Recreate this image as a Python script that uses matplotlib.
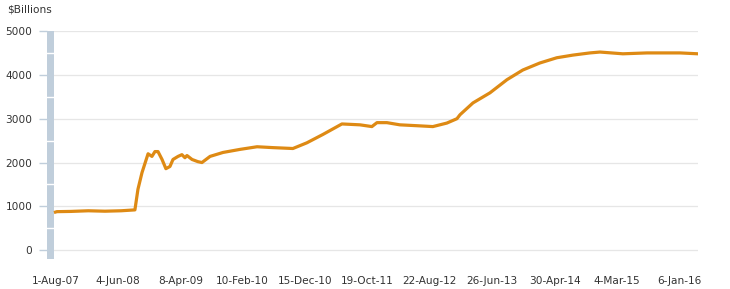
import matplotlib
matplotlib.use("Agg")
import matplotlib.pyplot as plt
import matplotlib.dates as mdates
import pandas as pd

# Data, $ billions
dates = ["2007-08-01", "2007-08-08", "2007-10-15", "2008-01-10", "2008-04-01", "2008-06-20",
         "2008-08-27", "2008-09-11", "2008-10-01", "2008-10-31", "2008-11-19", "2008-12-04",
         "2008-12-19", "2009-01-08", "2009-01-27", "2009-02-16", "2009-03-03", "2009-03-28",
         "2009-04-16", "2009-05-01", "2009-05-11", "2009-06-05", "2009-07-04", "2009-07-24",
         "2009-09-02", "2009-11-05", "2010-01-28", "2010-04-22", "2010-07-10", "2010-10-16",
         "2010-12-24", "2011-03-13", "2011-06-15", "2011-09-12", "2011-11-10", "2011-12-05",
         "2012-01-23", "2012-03-27", "2012-06-19", "2012-09-06", "2012-11-14", "2013-01-03",
         "2013-01-18", "2013-03-23", "2013-06-15", "2013-09-07", "2013-11-24", "2014-02-16",
         "2014-05-11", "2014-07-29", "2014-10-21", "2014-12-10", "2015-04-02", "2015-07-30",
         "2016-01-09", "2016-04-07"]
values = [870, 880, 885, 900, 890, 900,
          920, 1390, 1770, 2200, 2140, 2250,
          2250, 2070, 1860, 1910, 2070, 2140,
          2180, 2110, 2160, 2070, 2020, 2000,
          2140, 2230, 2300, 2360, 2340, 2320,
          2450, 2640, 2880, 2860, 2820, 2910,
          2910, 2860, 2840, 2820, 2900, 3000,
          3090, 3360, 3590, 3890, 4110, 4270,
          4390, 4450, 4500, 4520, 4480, 4500,
          4500, 4480]

tick_dates = ["2007-08-01", "2008-06-04", "2009-04-08", "2010-02-10", "2010-12-15",
              "2011-10-19", "2012-08-22", "2013-06-26", "2014-04-30", "2015-03-04", "2016-01-06"]
tick_labels = ["1-Aug-07", "4-Jun-08", "8-Apr-09", "10-Feb-10", "15-Dec-10", "19-Oct-11",
               "22-Aug-12", "26-Jun-13", "30-Apr-14", "4-Mar-15", "6-Jan-16"]
y_ticks = [0, 1000, 2000, 3000, 4000, 5000]

x = pd.to_datetime(dates)
xt = pd.to_datetime(tick_dates)

fig = plt.figure(figsize=(7.3, 2.89), dpi=100)
ax = fig.add_axes([47/730, 1 - 259/289, (698 - 47)/730, (259 - 31)/289])

x0 = pd.Timestamp("2007-06-20")
band_end = pd.Timestamp("2007-07-26")
ax.set_xlim(x0, pd.Timestamp("2016-04-07"))
ax.set_ylim(-200, 5000)

# gridlines
for yv in y_ticks:
    ax.axhline(yv, color="#e6e6e6", lw=0.9, zorder=0)

# highlight band at left
ax.axvspan(x0, band_end, ymin=0, ymax=1, color="#c0cedb", lw=0, zorder=1)
for yv in [500, 1500, 2500, 3500, 4500]:
    ax.plot([x0, band_end], [yv, yv], color="white", lw=1.0, zorder=2)

ax.plot(x, values, color="#de8a14", lw=2.3, zorder=3, solid_joinstyle="round")

ax.set_xticks(xt)
ax.set_xticklabels(tick_labels)
ax.set_yticks(y_ticks)
ax.set_yticklabels([str(v) for v in y_ticks])

ax.tick_params(axis="x", length=0, pad=12, labelsize=7.6, colors="#333333")
ax.tick_params(axis="y", length=6, width=1, color="#c0cedb", pad=4.5, labelsize=7.6,
               labelcolor="#333333")
for s in ax.spines.values():
    s.set_visible(False)

fig.text(7/730, 1 - 10/289, "$Billions", fontsize=7.6, color="#333333", va="center", ha="left")

fig.savefig("out.png", dpi=100)
